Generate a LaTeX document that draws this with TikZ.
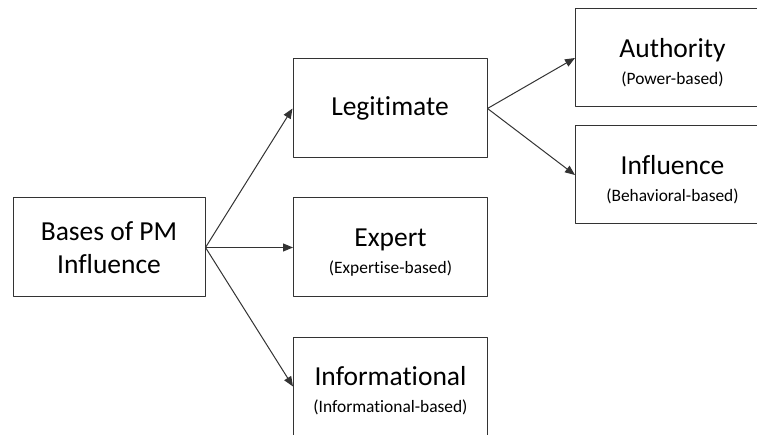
\documentclass[tikz,border=0pt]{standalone}
\usepackage{fontspec}
\setmainfont{Carlito}[Ligatures={NoCommon,NoContextual}]
\usetikzlibrary{arrows.meta}
\newcommand{\subfnt}{\fontsize{17.4}{20}\selectfont}
\newcommand{\topstrut}{\rule{0pt}{28pt}}

\begin{document}
\begin{tikzpicture}[x=1pt, y=-1pt, line join=round, >={Triangle[length=10pt,width=8pt]},
	box/.style={draw=black!80, line width=1pt, minimum width=194pt, minimum height=99pt, inner sep=0pt, align=center, font=\fontsize{27.5}{33}\selectfont},
	conn/.style={->, draw=black!80, line width=1pt}]
	\useasboundingbox (0,0) rectangle (757,435);
	\clip (0,0) rectangle (757,435);
	% boxes
	\node[box, minimum width=192pt] (base) at (109,247.5) {Bases of PM\\Influence};
	\node[box] (legit) at (390,108.5) {Legitimate};
	\node[box] (expert) at (390.5,247.5) {\topstrut Expert\\[-6pt]{\subfnt (Expertise-based)}};
	\node[box] (info) at (390.5,386.5) {\topstrut Informational\\[-6pt]{\subfnt (Informational-based)}};
	\node[box, minimum height=98pt] (auth) at (672.5,58) {\topstrut Authority\\[-6pt]{\subfnt (Power-based)}};
	\node[box, minimum height=98pt] (infl) at (672.5,175) {\topstrut Influence\\[-6pt]{\subfnt (Behavioral-based)}};
	% arrows
	\draw[conn] (base.east) -- (legit.west);
	\draw[conn] (base.east) -- (expert.west);
	\draw[conn] (base.east) -- (info.west);
	\draw[conn] (legit.east) -- (auth.west);
	\draw[conn] (legit.east) -- (infl.west);
\end{tikzpicture}
\end{document}
